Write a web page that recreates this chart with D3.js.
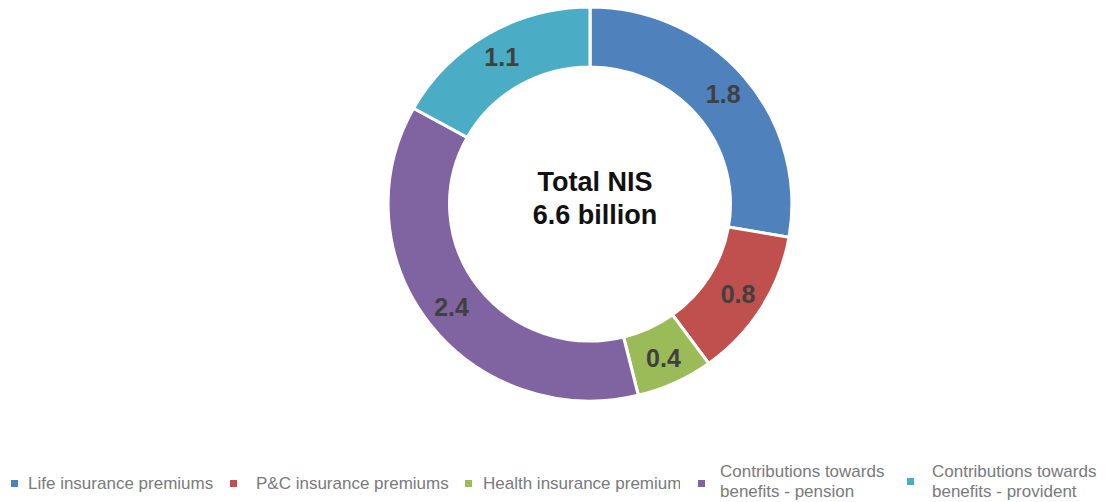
<!DOCTYPE html>
<html>
<head>
<meta charset="utf-8">
<script src="https://cdn.jsdelivr.net/npm/d3@7"></script>
<style>
  html, body { margin: 0; padding: 0; background: #fff; }
  svg { display: block; }
</style>
</head>
<body>
<svg id="chart" width="1109" height="502"></svg>
<script>
// Premium and contribution breakdown (NIS billion)
const categories = [
  "Life insurance premiums",
  "P&C insurance premiums",
  "Health insurance premiums",
  "Contributions towards benefits - pension",
  "Contributions towards benefits - provident"
];
const values = [1.8, 0.8, 0.4, 2.4, 1.1];
const colors = ["#4f81bd", "#c0504d", "#9bbb59", "#8064a2", "#4bacc6"];
const legendLines = [
  ["Life insurance premiums"],
  ["P&C insurance premiums"],
  ["Health insurance premiums"],
  ["Contributions towards", "benefits - pension"],
  ["Contributions towards", "benefits - provident"]
];
const centerLines = ["Total NIS", "6.6 billion"];

const svg = d3.select("#chart");
const cx = 590, cy = 204;
const outerR = 197, innerR = 137;

const data = categories.map((c, i) => ({ name: c, value: values[i], color: colors[i] }));

const pie = d3.pie().value(d => d.value).sort(null);
const arc = d3.arc().innerRadius(innerR).outerRadius(outerR);
const labelArc = d3.arc().innerRadius(innerR + 3).outerRadius(outerR + 3);

const g = svg.append("g").attr("transform", `translate(${cx},${cy})`);
const arcs = pie(data);

// Ring is drawn slightly wider than tall
g.append("g").attr("transform", "scale(1.025,1)")
  .selectAll("path.slice")
  .data(arcs)
  .join("path")
  .attr("class", "slice")
  .attr("d", arc)
  .attr("fill", d => d.data.color)
  .attr("stroke", "#fff")
  .attr("stroke-width", 3);

g.selectAll("text.val")
  .data(arcs)
  .join("text")
  .attr("class", "val")
  .attr("transform", d => {
    const [x, y] = labelArc.centroid(d);
    return `translate(${x * 1.025},${y})`;
  })
  .attr("text-anchor", "middle")
  .attr("dy", "0.36em")
  .attr("font-family", "Liberation Sans, Arial, sans-serif")
  .attr("font-weight", "bold")
  .attr("font-size", 25)
  .attr("fill", "#404040")
  .text(d => d3.format(".1f")(d.data.value));

// Centre caption
const ct = g.append("text")
  .attr("text-anchor", "middle")
  .attr("font-family", "Liberation Sans, Arial, sans-serif")
  .attr("font-weight", "bold")
  .attr("font-size", 27)
  .attr("fill", "#111");
ct.selectAll("tspan")
  .data(centerLines)
  .join("tspan")
  .attr("x", 5)
  .attr("y", (d, i) => -13 + i * 33)
  .text(d => d);

// Legend
const legendX = [11, 230, 465, 698, 907];
const legendTextX = [28, 256, 483, 720, 932];
const legend = svg.append("g").attr("class", "legend");

svg.append("defs").append("clipPath").attr("id", "legclip")
  .append("rect").attr("x", 483).attr("y", 455).attr("width", 197).attr("height", 47);

const items = legend.selectAll("g.item")
  .data(data)
  .join("g")
  .attr("class", "item");

items.append("rect")
  .attr("x", (d, i) => legendX[i])
  .attr("y", (d, i) => i === 4 ? 478 : 480)
  .attr("width", 7)
  .attr("height", 7)
  .attr("fill", d => d.color);

items.append("text")
  .attr("font-family", "Liberation Sans, Arial, sans-serif")
  .attr("font-size", 17)
  .attr("fill", "#7a7a7a")
  .attr("clip-path", (d, i) => i === 2 ? "url(#legclip)" : null)
  .each(function(d, i) {
    const lines = legendLines[i];
    const t = d3.select(this);
    lines.forEach((ln, j) => {
      t.append("tspan")
        .attr("x", legendTextX[i])
        .attr("y", lines.length === 1 ? 489 : 477 + j * 20)
        .text(ln);
    });
  });
</script>
</body>
</html>
